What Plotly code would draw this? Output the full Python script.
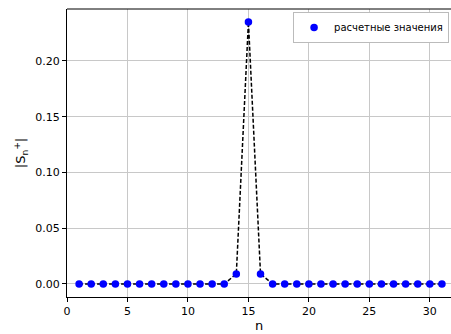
import plotly.graph_objects as go

n = list(range(1, 32))
s_vals = [0.0]*13 + [0.009, 0.235, 0.009] + [0.0]*15
series_name = "расчетные значения"
x_ticks = [0, 5, 10, 15, 20, 25, 30]
y_ticks = [0.0, 0.05, 0.10, 0.15, 0.20]
y_ticklabels = ["0.00", "0.05", "0.10", "0.15", "0.20"]

fig = go.Figure()
fig.add_trace(go.Scatter(x=n, y=s_vals, mode="lines", line=dict(color="black", dash="4px,2px", width=1.5),
                         showlegend=False, hoverinfo="skip"))
fig.add_trace(go.Scatter(x=n, y=s_vals, mode="markers", name=series_name,
                         marker=dict(color="blue", size=7.5)))

fig.update_layout(
    width=451, height=334,
    margin=dict(l=67, r=0, t=9, b=37, autoexpand=False),
    paper_bgcolor="white", plot_bgcolor="white",
    font=dict(family="DejaVu Sans", size=11, color="black"),
    legend=dict(x=0.995, y=0.99, xanchor="right", yanchor="top",
                bgcolor="white", bordercolor="#bbbbbb", borderwidth=1,
                font=dict(size=10), itemwidth=30),
    xaxis=dict(range=[0, 31.75], tickvals=x_ticks, showgrid=True, gridcolor="#c8c8c8", gridwidth=0.8,
               ticks="outside", ticklen=4, tickcolor="black", showline=True, linecolor="black",
               mirror=False, zeroline=False, title=dict(text="n", standoff=2, font=dict(size=13))),
    yaxis=dict(range=[-0.0117, 0.2466], tickvals=y_ticks, ticktext=y_ticklabels, showgrid=True,
               gridcolor="#c8c8c8", gridwidth=0.8, ticks="outside", ticklen=4, tickcolor="black",
               showline=True, linecolor="black", zeroline=False,
               title=dict(text="|S<sub>n</sub><sup>+</sup>|", standoff=6, font=dict(size=13))),
)
fig.add_shape(type="line", xref="paper", yref="paper", x0=0, x1=1, y0=1, y1=1,
              line=dict(color="black", width=1))
fig.write_html("out.html", config={"displayModeBar": False},
               post_script="document.body.style.margin='0';document.body.style.overflow='hidden';")
